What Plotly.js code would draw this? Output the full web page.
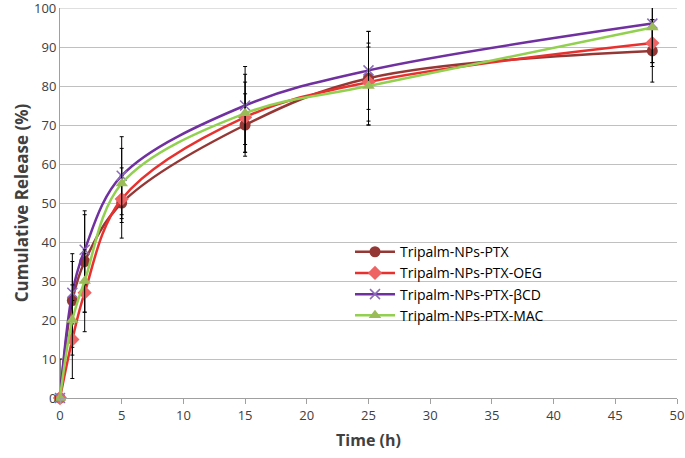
<!DOCTYPE html>
<html>
<head>
<meta charset="utf-8">
<script src="https://cdn.plot.ly/plotly-3.0.1.min.js"></script>
<style>html,body{margin:0;padding:0;background:#fff;}#chart{width:685px;height:458px;}</style>
</head>
<body>
<div id="chart"></div>
<script>
const time = [0, 1, 2, 5, 15, 25, 48];

const ptx = [0, 25, 35, 50, 70, 82, 89];
const ptxErr = [0, 12, 13, 9, 8, 12, 8];

const oeg = [0, 15, 27, 51, 72, 81, 91];
const oegErr = [10, 10, 10, 6, 9, 10, 6];

const bcd = [0, 27, 38, 57, 75, 84, 96];
const bcdErr = [0, 8, 9, 10, 10, 10, 10];

const mac = [0, 20, 30, 55, 73, 80, 95];
const macErr = [0, 9, 8, 9, 10, 10, 9];

const names = ['Tripalm-NPs-PTX', 'Tripalm-NPs-PTX-OEG', 'Tripalm-NPs-PTX-\u03b2CD', 'Tripalm-NPs-PTX-MAC'];
const xTicks = [0, 5, 10, 15, 20, 25, 30, 35, 40, 45, 50];
const yTicks = [0, 10, 20, 30, 40, 50, 60, 70, 80, 90, 100];
const yMax = yTicks[yTicks.length - 1];

function mk(y, err, name, lineColor, marker) {
  return {
    x: time, y: y, name: name, type: 'scatter', mode: 'lines+markers',
    line: {color: lineColor, width: 2.5, shape: 'spline', smoothing: 1},
    marker: marker,
    error_y: {type: 'data', array: err, visible: true, color: '#000000', thickness: 1, width: 2},
    cliponaxis: false
  };
}

const data = [
  mk(ptx, ptxErr, names[0], '#953735', {symbol: 'circle', size: 11, color: '#953735'}),
  mk(oeg, oegErr, names[1], '#E8312F', {symbol: 'diamond', size: 11, color: '#EE6464'}),
  mk(bcd, bcdErr, names[2], '#7030A0', {symbol: 'x-thin', size: 10, line: {color: '#8A6BB8', width: 1.5}, color: '#8A6BB8'}),
  mk(mac, macErr, names[3], '#92D050', {symbol: 'triangle-up', size: 11, color: '#9BBB59'})
];

const layout = {
  width: 685, height: 458,
  margin: {l: 60, r: 8, t: 8, b: 60, autoexpand: false},
  paper_bgcolor: '#ffffff', plot_bgcolor: '#ffffff',
  font: {family: 'Open Sans, Liberation Sans, sans-serif', size: 13, color: '#404040'},
  showlegend: true,
  legend: {x: 0.47, y: 0.415, xanchor: 'left', yanchor: 'top', bgcolor: 'rgba(255,255,255,0)',
           font: {size: 14, color: '#000000'}, tracegroupgap: 0, itemwidth: 40},
  xaxis: {
    range: [xTicks[0], xTicks[xTicks.length - 1]], tickmode: 'array', tickvals: xTicks, ticktext: xTicks.map(String),
    automargin: false,
    showgrid: false, zeroline: false, showline: true, linecolor: '#a0a0a0', linewidth: 1,
    ticks: 'outside', ticklen: 5, tickcolor: '#a0a0a0',
    title: {text: '<b>Time (h)</b>', font: {size: 16, color: '#404040'}, standoff: 12}
  },
  yaxis: {
    range: [yTicks[0], yMax], tickmode: 'array', tickvals: yTicks.slice(0, -1), ticktext: yTicks.slice(0, -1).map(String),
    automargin: false,
    showgrid: true, gridcolor: '#c0c0c0', gridwidth: 1, zeroline: false,
    showline: true, linecolor: '#a0a0a0', linewidth: 1, ticks: '', ticklen: 0,
    title: {text: '<b>Cumulative Release (%)</b>', font: {size: 17, color: '#404040'}, standoff: 8}
  },
  shapes: [{type: 'line', xref: 'paper', yref: 'y', x0: 0, x1: 1, y0: yMax, y1: yMax,
            line: {color: '#c0c0c0', width: 1}, layer: 'below'}],
  annotations: [{xref: 'paper', yref: 'y', x: 0, y: yMax, text: String(yMax), showarrow: false,
                 xanchor: 'right', yanchor: 'middle', xshift: -2, font: {size: 13, color: '#404040'}}]
};

Plotly.newPlot('chart', data, layout, {displayModeBar: false, staticPlot: true});
</script>
</body>
</html>
